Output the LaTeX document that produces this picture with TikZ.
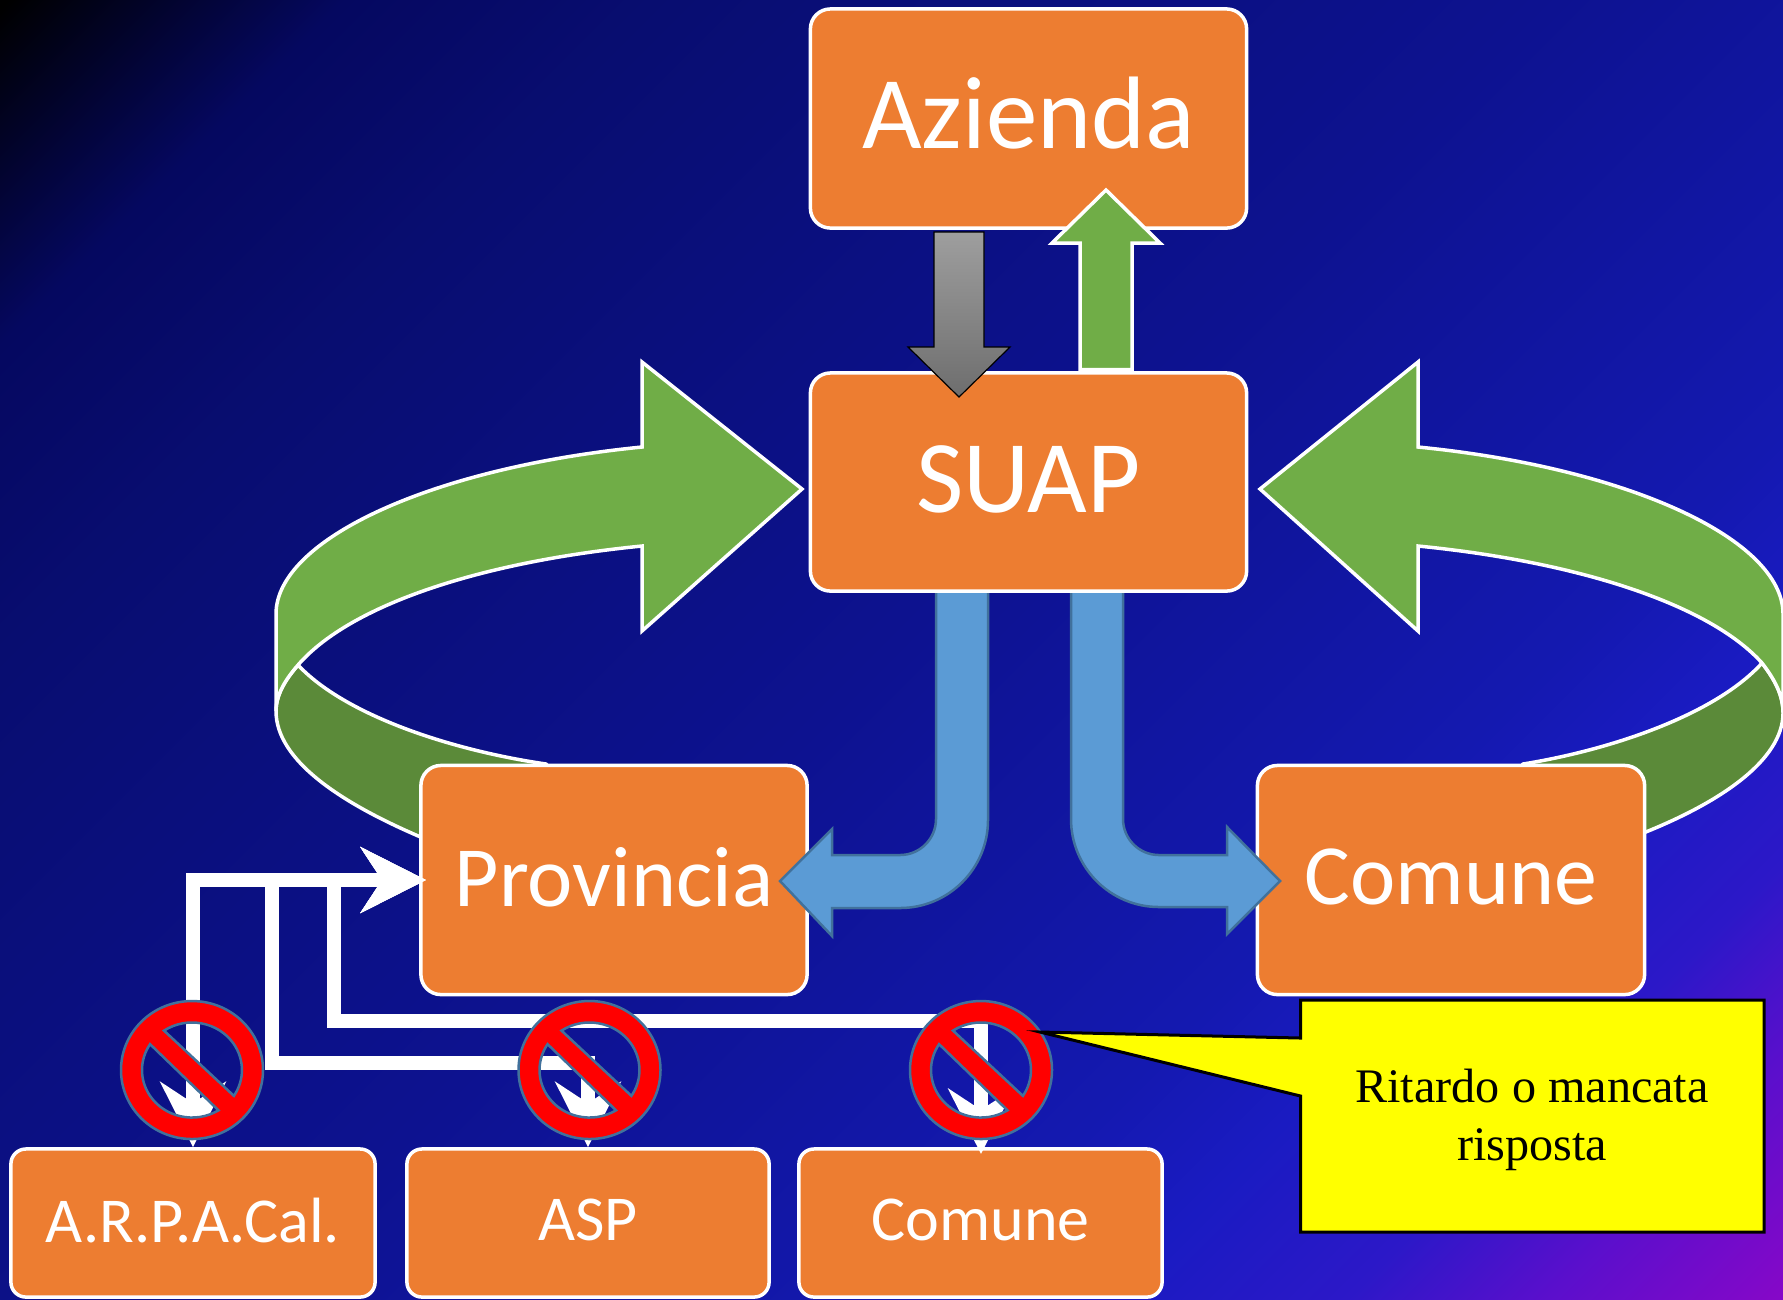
\documentclass[tikz,border=0pt]{standalone}
\usepackage{fontspec}
\setmainfont{Carlito}
\newfontfamily\calloutfont{Liberation Serif}
\usetikzlibrary{arrows.meta}

\definecolor{boxorange}{HTML}{ED7D31}
\definecolor{arrowgreen}{HTML}{70AD47}
\definecolor{darkgreen}{HTML}{5B8A39}
\definecolor{arrowblue}{HTML}{5B9BD5}
\definecolor{edgeblue}{HTML}{41719C}
\definecolor{calloutyellow}{HTML}{FFFF00}
\definecolor{signred}{HTML}{FF0000}
\definecolor{bgstart}{HTML}{000000}
\definecolor{bgdark}{HTML}{050860}
\definecolor{bgnavy}{HTML}{080D70}
\definecolor{bgmid}{HTML}{0D1290}
\definecolor{bgblue}{HTML}{1419B0}
\definecolor{bglight}{HTML}{1A1BC2}
\definecolor{bgviolet}{HTML}{2C18C8}
\definecolor{bgpurple}{HTML}{5A0FCC}
\definecolor{bgend}{HTML}{8508C8}

\pgfdeclarehorizontalshading{slidebg}{100bp}{
  color(0bp)=(bgstart); color(14.65bp)=(bgstart);
  color(22.4bp)=(bgdark); color(29.5bp)=(bgnavy);
  color(50bp)=(bgmid); color(65.5bp)=(bgblue);
  color(70bp)=(bglight); color(75.5bp)=(bgviolet);
  color(80bp)=(bgpurple); color(85.35bp)=(bgend); color(100bp)=(bgend)}

\tikzset{
  bigbox/.style={draw=white, line width=.035cm, fill=boxorange, rounded corners=.2cm, inner sep=0pt, text=white, font=\fontsize{29.3}{32}\selectfont},
  midbox/.style={bigbox, text depth=1.7pt, font=\fontsize{24.4}{28}\selectfont},
  smallbox/.style={bigbox, rounded corners=.15cm, text depth=1.7pt, font=\fontsize{18.2}{22}\selectfont},
  wire/.style={draw=white, line width=.14cm, {Stealth[length=.65cm,width=.65cm,inset=.21cm]}-{Stealth[length=.65cm,width=.65cm,inset=.21cm]}},
  greenarrow/.style={draw=white, line width=.035cm, fill=arrowgreen, line join=miter},
  bluearrow/.style={draw=edgeblue, line width=.025cm, fill=arrowblue},
  nosign/.style={draw=edgeblue, line width=.025cm, fill=signred, even odd rule}
}

\begin{document}
\begin{tikzpicture}[x=.01cm,y=-.01cm]
\useasboundingbox (0,0) rectangle (1783,1299);
\shade [shading=slidebg, shading angle=-45] (0,0) rectangle (1783,1299);

\draw [greenarrow, fill=darkgreen] (298,665) .. controls (285,680) and (276,695) .. (276,711) .. controls (276,760) and (340,805) .. (440,845) -- (560,780) -- (546,764) .. controls (450,750) and (345,715) .. (298,665) -- cycle;
\draw [greenarrow] (802,489) -- (642,362) -- (642,447) .. controls (430,468) and (276,540) .. (276,614) -- (276,711) .. controls (276,695) and (285,680) .. (298,665) .. controls (350,605) and (480,562) .. (642,546) -- (642,631) -- cycle;

\draw [greenarrow, fill=darkgreen] (1762,663) .. controls (1775,680) and (1783,695) .. (1783,713) .. controls (1783,760) and (1720,805) .. (1625,840) -- (1510,780) -- (1523,764) .. controls (1610,750) and (1715,715) .. (1762,663) -- cycle;
\draw [greenarrow] (1260,489) -- (1418,362) -- (1418,447) .. controls (1630,468) and (1783,540) .. (1783,614) -- (1783,713) .. controls (1783,695) and (1775,680) .. (1762,663) .. controls (1710,605) and (1580,562) .. (1418,546) -- (1418,631) -- cycle;

\node [midbox, minimum width=3.86cm, minimum height=2.29cm] (provincia) at (614,880) {Provincia};
\node [midbox, minimum width=3.87cm, minimum height=2.29cm] (comune) at (1451,880) {Comune};

\draw [bluearrow] (936,590) -- (936,819) arc [start angle=0, end angle=90, radius=36] -- (832,855) -- (832,829) -- (780,881) -- (832,936) -- (832,908) -- (900,908) arc [start angle=90, end angle=0, radius=88] -- (988,590) -- cycle;
\draw [bluearrow] (1071,590) -- (1071,819) arc [start angle=180, end angle=90, radius=88] -- (1227,907) -- (1227,934) -- (1280,881) -- (1227,827) -- (1227,855) -- (1159,855) arc [start angle=90, end angle=180, radius=36] -- (1123,590) -- cycle;

\node [bigbox, text depth=3.2pt, minimum width=4.36cm, minimum height=2.19cm] (azienda) at (1028.5,118.5) {Azienda};
\node [bigbox, text depth=1.6pt, minimum width=4.36cm, minimum height=2.18cm] (suap) at (1028.5,482) {SUAP};

\draw [top color=black!38, bottom color=black!57, draw=black, line width=.012cm] (934,232) -- (984,232) -- (984,347) -- (1010,347) -- (959,397) -- (908,347) -- (934,347) -- cycle;
\draw [greenarrow] (1080,369.5) -- (1080,243) -- (1052,243) -- (1106,190) -- (1160,243) -- (1132,243) -- (1132,369.5) -- cycle;

\node [smallbox, minimum width=3.64cm, minimum height=1.48cm] (arpa) at (193,1223) {A.R.P.A.Cal.};
\node [smallbox, minimum width=3.62cm, minimum height=1.48cm] (asp) at (588,1223) {ASP};
\node [smallbox, minimum width=3.63cm, minimum height=1.48cm] (comunepa) at (980.5,1223) {Comune};

\coordinate (provin) at (426,880);
\coordinate (aspbend) at (272,1063);
\coordinate (comunebend) at (333.5,1020.5);
\coordinate (comunetip) at (981,1154);

\draw [wire] (arpa.north) -- (arpa.north |- provin) -- (provin);
\draw [wire] (asp.north) -- (asp.north |- aspbend) -- (aspbend) -- (aspbend |- provin) -- (provin);
\draw [wire] (comunetip) -- (comunetip |- comunebend) -- (comunebend) -- (comunebend |- provin) -- (provin);

\draw [nosign] (192,1070) ellipse [x radius=71, y radius=69]
  (164,1030.6) arc [start angle=-124, end angle=33, x radius=50, y radius=47.5] -- cycle
  (218.5,1110.3) arc [start angle=58, end angle=213, x radius=50, y radius=47.5] -- cycle;
\draw [nosign] (589.5,1070) ellipse [x radius=71, y radius=69]
  (561.5,1030.6) arc [start angle=-124, end angle=33, x radius=50, y radius=47.5] -- cycle
  (616,1110.3) arc [start angle=58, end angle=213, x radius=50, y radius=47.5] -- cycle;
\draw [nosign] (981,1070) ellipse [x radius=71, y radius=69]
  (953,1030.6) arc [start angle=-124, end angle=33, x radius=50, y radius=47.5] -- cycle
  (1007.5,1110.3) arc [start angle=58, end angle=213, x radius=50, y radius=47.5] -- cycle;

\draw [draw=black, line width=.03cm, fill=calloutyellow] (1300.5,1000) -- (1764,1000) -- (1764,1232) -- (1300.5,1232) -- (1300.5,1096) -- (1040,1032) -- (1300.5,1038) -- cycle;
\node [align=center, font=\calloutfont\fontsize{13.7}{16.5}\selectfont] (ritardo) at (1532,1120) {Ritardo o mancata\\risposta};

\end{tikzpicture}
\end{document}
